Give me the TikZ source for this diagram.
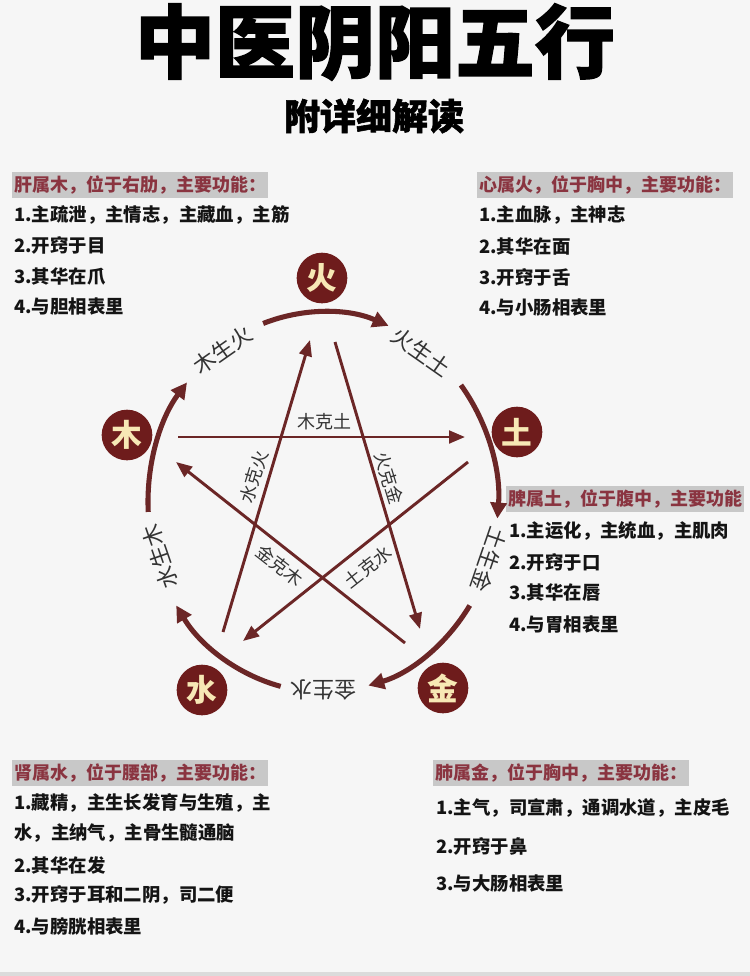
\documentclass[tikz,border=0pt]{standalone}
\usepackage{fontspec}
\setmainfont{Noto Sans CJK SC}
\newfontfamily\tcmtitlefont{Noto Sans CJK SC}[BoldFeatures={FakeBold=1.6}]
\usetikzlibrary{arrows.meta,calc}
\definecolor{tcmred}{HTML}{6E1C1C}
\definecolor{tcmline}{HTML}{6B2626}
\definecolor{tcmhead}{HTML}{8A3440}
\definecolor{tcmgray}{HTML}{C8C8C8}
\definecolor{tcmbg}{HTML}{F6F6F6}
\definecolor{tcmcream}{HTML}{F7E8B5}
\begin{document}
\begin{tikzpicture}[x=0.75pt,y=-0.75pt,
  headbox/.style={anchor=west,fill=tcmgray,text=tcmhead,font=\fontsize{13.5}{14}\selectfont\bfseries,inner xsep=1.5pt,inner ysep=2.5pt},
  bodytext/.style={anchor=west,text=black!92,font=\fontsize{13.8}{14}\selectfont\bfseries,inner sep=0pt},
  elem/.style={circle,fill=tcmred,text=tcmcream,minimum size=38pt,inner sep=0pt,font=\fontsize{23}{23}\selectfont\bfseries},
  genarc/.style={draw=tcmline,line width=3.8pt,-{Triangle[length=12pt,width=12pt]}},
  keline/.style={draw=tcmline,line width=2.2pt,-{Triangle[length=12pt,width=9.5pt]}},
  genlab/.style={text=black!80,font=\fontsize{16.5}{17}\selectfont,inner sep=0pt},
  kelab/.style={text=black!80,font=\fontsize{13.5}{14}\selectfont,inner sep=0pt}]
\fill[tcmbg] (0,0) rectangle (750,976);
\useasboundingbox (0,0) rectangle (750,976);
\fill[black!14] (0,972) rectangle (750,976);

% title
\node[font=\fontsize{60}{61}\selectfont\tcmtitlefont\bfseries] (title) at (375,42) {中医阴阳五行};
\node[font=\fontsize{27}{28}\selectfont\tcmtitlefont\bfseries] (subtitle) at (374,116) {附详细解读};

% text blocks
\node[headbox] (h1) at (12,185) {肝属木，位于右肋，主要功能：};
\node[bodytext] (l11) at (14,215) {1.主疏泄，主情志，主藏血，主筋};
\node[bodytext] (l12) at (14,245) {2.开窍于目};
\node[bodytext] (l13) at (14,276) {3.其华在爪};
\node[bodytext] (l14) at (14,307) {4.与胆相表里};

\node[headbox] (h2) at (477,185) {心属火，位于胸中，主要功能：};
\node[bodytext] (l21) at (479,215) {1.主血脉，主神志};
\node[bodytext] (l22) at (479,246) {2.其华在面};
\node[bodytext] (l23) at (479,277) {3.开窍于舌};
\node[bodytext] (l24) at (479,307) {4.与小肠相表里};

\node[headbox] (h3) at (506,499) {脾属土，位于腹中，主要功能};
\node[bodytext] (l31) at (509,531) {1.主运化，主统血，主肌肉};
\node[bodytext] (l32) at (509,562) {2.开窍于口};
\node[bodytext] (l33) at (509,593) {3.其华在唇};
\node[bodytext] (l34) at (509,624) {4.与胃相表里};

\node[headbox] (h4) at (12,773) {肾属水，位于腰部，主要功能：};
\node[bodytext] (l41) at (14,803) {1.藏精，主生长发育与生殖，主};
\node[bodytext] (l42) at (14,833) {水，主纳气，主骨生髓通脑};
\node[bodytext] (l43) at (14,865) {2.其华在发};
\node[bodytext] (l44) at (14,895) {3.开窍于耳和二阴，司二便};
\node[bodytext] (l45) at (14,926) {4.与膀胱相表里};

\node[headbox] (h5) at (433,773) {肺属金，位于胸中，主要功能：};
\node[bodytext] (l51) at (436,808) {1.主气，司宣肃，通调水道，主皮毛};
\node[bodytext] (l52) at (436,846) {2.开窍于鼻};
\node[bodytext] (l53) at (436,883) {3.与大肠相表里};

% elements
\node[elem] (huo) at (322,278) {火};
\node[elem] (tu) at (517,432) {土};
\node[elem] (mu) at (127,435) {木};
\node[elem] (shui) at (202,690) {水};
\node[elem] (jin) at (443,688) {金};

% generating cycle
\coordinate (C) at (323,502);
\draw[genarc] (C) ++(-110:175 and 190) arc[start angle=-110,end angle=-68,x radius=175,y radius=190];
\draw[genarc] (C) ++(-38:175 and 190) arc[start angle=-38,end angle=5,x radius=175,y radius=190];
\draw[genarc] (C) ++(33:175 and 190) arc[start angle=33,end angle=75,x radius=175,y radius=190];
\draw[genarc] (C) ++(104:175 and 190) arc[start angle=104,end angle=147,x radius=175,y radius=190];
\draw[genarc] (C) ++(177:175 and 190) arc[start angle=177,end angle=219,x radius=175,y radius=190];

\node[genlab,rotate=35] (g1) at (223,350) {木生火};
\node[genlab,rotate=-35] (g2) at (421,352) {火生土};
\node[genlab,rotate=-109] (g3) at (489,560) {土生金};
\node[genlab,rotate=180] (g4) at (323,690) {金生水};
\node[genlab,rotate=109] (g5) at (160,557) {水生木};

% controlling cycle
\coordinate (k1a) at (178,437); \coordinate (k1b) at (465,437);
\coordinate (k2a) at (468,462); \coordinate (k2b) at (243,641);
\coordinate (k3a) at (223,632); \coordinate (k3b) at (310,340);
\coordinate (k4a) at (335,342); \coordinate (k4b) at (420,629);
\coordinate (k5a) at (405,643); \coordinate (k5b) at (176,462);
\draw[keline] (k1a) -- (k1b);
\draw[keline] (k2a) -- (k2b);
\draw[keline] (k3a) -- (k3b);
\draw[keline] (k4a) -- (k4b);
\draw[keline] (k5a) -- (k5b);

\node[kelab] (c1) at (324,422) {木克土};
\node[kelab,rotate=73] (c2) at (254,477) {水克火};
\node[kelab,rotate=-73] (c3) at (389,478) {火克金};
\node[kelab,rotate=-38] (c4) at (280,566) {金克木};
\node[kelab,rotate=38] (c5) at (368,567) {土克水};
\end{tikzpicture}
\end{document}
